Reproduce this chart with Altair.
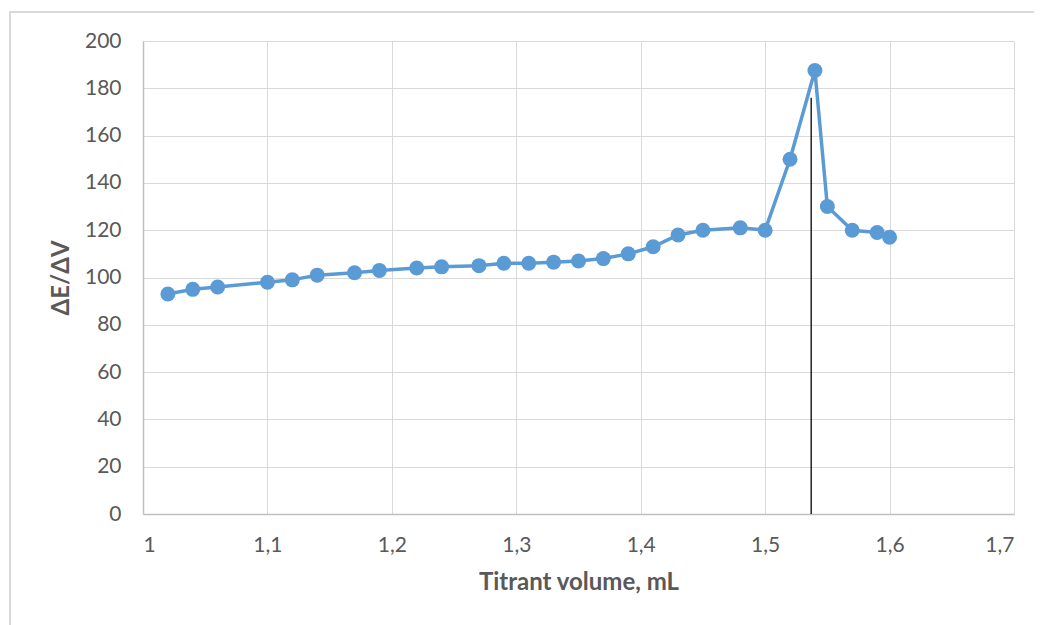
import altair as alt
import pandas as pd

volume = [1.02, 1.04, 1.06, 1.10, 1.12, 1.14, 1.17, 1.19, 1.22, 1.24, 1.27, 1.29, 1.31, 1.33,
          1.35, 1.37, 1.39, 1.41, 1.43, 1.45, 1.48, 1.50, 1.52, 1.54, 1.55, 1.57, 1.59, 1.60]
dEdV = [93, 95, 96, 98, 99, 101, 102, 103, 104, 104.5, 105, 106, 106, 106.5,
        107, 108, 110, 113, 118, 120, 121, 120, 150, 187.5, 130, 120, 119, 117]

endpoint_x = [1.537]
endpoint_y0 = [0]
endpoint_y1 = [176]

x_ticks = [1.0, 1.1, 1.2, 1.3, 1.4, 1.5, 1.6, 1.7]
y_ticks = [0, 20, 40, 60, 80, 100, 120, 140, 160, 180, 200]

df = pd.DataFrame({"v": volume, "d": dEdV})
rule_df = pd.DataFrame({"v": endpoint_x, "y0": endpoint_y0, "y1": endpoint_y1})

FONT = "Lato"
GRAY = "#595959"
BLUE = "#5B9BD5"

x_enc = alt.X("v:Q", scale=alt.Scale(domain=[1.0, 1.7], nice=False, zero=False),
              axis=alt.Axis(values=x_ticks, title="Titrant volume, mL",
                            labelExpr="datum.value == 1 ? '1' : replace(format(datum.value, '.1f'), '.', ',')",
                            grid=True, gridColor="#D9D9D9", domainColor="#BFBFBF", domainWidth=1.5,
                            ticks=False, labelPadding=20, titlePadding=15,
                            labelFont=FONT, labelFontSize=21, labelColor=GRAY,
                            titleFont=FONT, titleFontSize=24, titleColor=GRAY, titleFontWeight="bold"))
y_enc = alt.Y("d:Q", scale=alt.Scale(domain=[0, 200], nice=False),
              axis=alt.Axis(values=y_ticks, title="ΔE/ΔV",
                            grid=True, gridColor="#D9D9D9", domainColor="#BFBFBF", domainWidth=1.5,
                            ticks=False, labelPadding=22, titlePadding=11,
                            labelFont=FONT, labelFontSize=21, labelColor=GRAY,
                            titleFont=FONT, titleFontSize=24, titleColor=GRAY, titleFontWeight="bold"))

frame = alt.Chart(df).mark_rect(fill=None, stroke="#D9D9D9", strokeWidth=1.5).encode(
    x=alt.value(-133), x2=alt.value(1000), y=alt.value(-29), y2=alt.value(700))

line = alt.Chart(df).mark_line(
    color=BLUE, strokeWidth=3.5,
    point=alt.OverlayMarkDef(size=225, filled=True, color=BLUE, opacity=1)
).encode(x=x_enc, y=y_enc)

rule = alt.Chart(rule_df).mark_rule(color="black", strokeWidth=1.3).encode(
    x="v:Q", y="y0:Q", y2="y1:Q")

chart = alt.layer(frame, line, rule).properties(
    width=871, height=473,
    autosize=alt.AutoSizeParams(type="none"),
    padding={"left": 135, "top": 33, "right": 20, "bottom": 111},
).configure_view(stroke=None)

chart.save("out.html", embed_options={"renderer": "svg", "actions": False})
